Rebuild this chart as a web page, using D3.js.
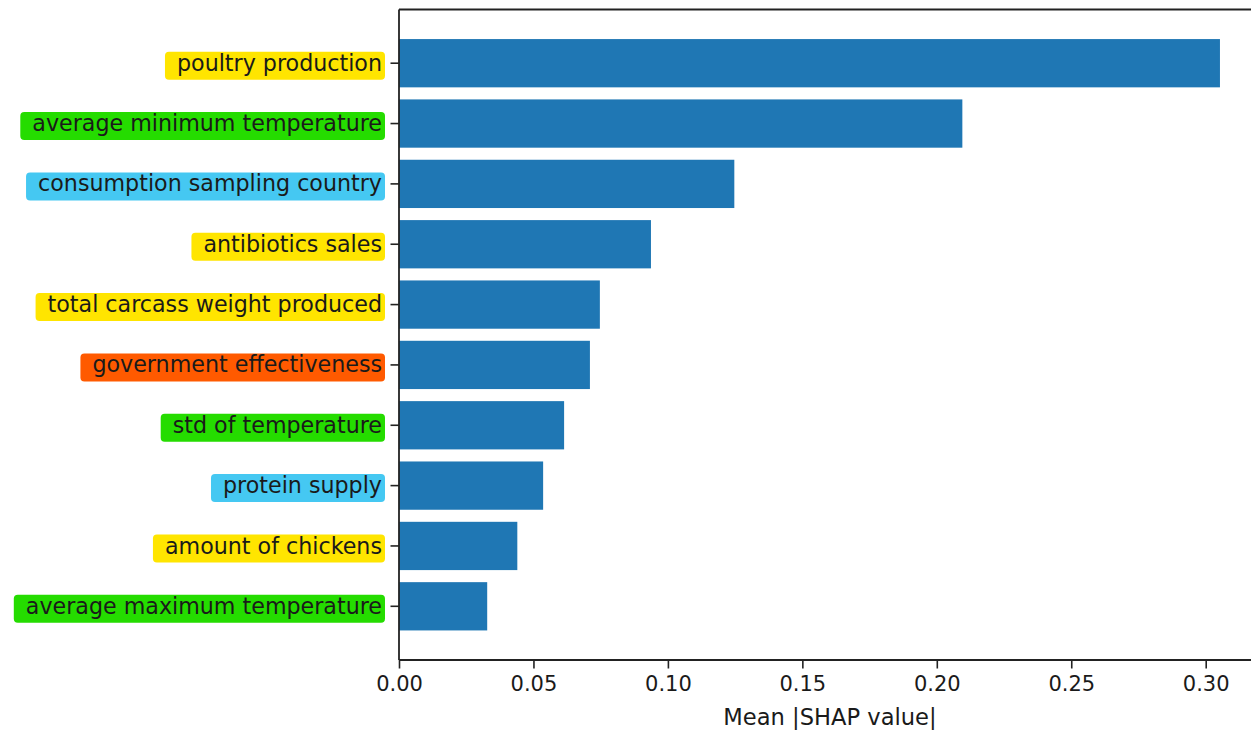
<!DOCTYPE html>
<html>
<head>
<meta charset="utf-8">
<script src="https://cdn.jsdelivr.net/npm/d3@7"></script>
<style>
  html, body { margin: 0; padding: 0; background: #fff; }
  svg { display: block; }
  text { font-family: "DejaVu Sans", sans-serif; fill: #1a1a1a; }
</style>
</head>
<body>
<svg id="chart" width="1251" height="732"></svg>
<script>
// ---- data ----
const features = [
  "poultry production",
  "average minimum temperature",
  "consumption sampling country",
  "antibiotics sales",
  "total carcass weight produced",
  "government effectiveness",
  "std of temperature",
  "protein supply",
  "amount of chickens",
  "average maximum temperature"
];
const meanShap = [0.3053, 0.2095, 0.1247, 0.0937, 0.0747, 0.0710, 0.0614, 0.0536, 0.0440, 0.0328];
const featureGroups = ["production", "climate", "consumption", "production", "production",
                       "governance", "climate", "consumption", "production", "climate"];
const xTicks = [0.00, 0.05, 0.10, 0.15, 0.20, 0.25, 0.30];
const xLabel = "Mean |SHAP value|";

// ---- style ----
const groupColor = {
  production: "#FFE500",
  climate: "#25DC00",
  consumption: "#45C8F2",
  governance: "#FF5A00"
};
const barColor = "#1f77b4";

const svg = d3.select("#chart");
const m = { left: 399, top: 9.5, right: 1261, bottom: 660 };

const x = d3.scaleLinear()
  .domain([0, d3.max(meanShap) * 1.05])
  .range([m.left, m.right]);

const y = d3.scaleBand()
  .domain(features)
  .range([m.top, m.bottom])
  .paddingInner(0.2)
  .paddingOuter(0.49);

const fsY = 22.2, fsX = 21, fsLabel = 22.6;

// highlight marks behind labels (drawn first)
const hl = svg.append("g");

// bars
svg.append("g").selectAll("rect")
  .data(features)
  .join("rect")
  .attr("x", x(0))
  .attr("y", d => y(d))
  .attr("width", (d, i) => x(meanShap[i]) - x(0))
  .attr("height", y.bandwidth())
  .attr("fill", barColor);

// y axis
const yAxis = svg.append("g")
  .attr("transform", `translate(${m.left},0)`)
  .call(d3.axisLeft(y).tickSize(8.5).tickPadding(8.5));
yAxis.select(".domain").remove();
yAxis.selectAll(".tick line").attr("stroke", "#222").attr("stroke-width", 1.6);
yAxis.selectAll(".tick text")
  .attr("font-size", fsY)
  .attr("font-family", "DejaVu Sans")
  .attr("fill", "#1a1a1a")
  .attr("dy", "0.34em");

// highlight rects sized to label text
yAxis.selectAll(".tick text").each(function(d) {
  const i = features.indexOf(d);
  const w = this.getComputedTextLength();
  const right = m.left - 14;
  const left = m.left - 17 - w - 12;
  const cy = y(d) + y.bandwidth() / 2 + 2.5;
  hl.append("rect")
    .attr("x", left)
    .attr("y", cy - 14)
    .attr("width", right - left)
    .attr("height", 28)
    .attr("rx", 4)
    .attr("fill", groupColor[featureGroups[i]]);
});

// x axis
const xAxis = svg.append("g")
  .attr("transform", `translate(0,${m.bottom})`)
  .call(d3.axisBottom(x).tickValues(xTicks).tickFormat(d3.format(".2f")).tickSize(8.5).tickPadding(8).tickSizeOuter(0));
xAxis.select(".domain").remove();
xAxis.selectAll(".tick line").attr("stroke", "#222").attr("stroke-width", 1.6);
xAxis.selectAll(".tick text")
  .attr("font-size", fsX)
  .attr("font-family", "DejaVu Sans")
  .attr("fill", "#1a1a1a");

// frame (spines)
const frame = svg.append("g").attr("stroke", "#222").attr("stroke-width", 1.8).attr("fill", "none");
frame.append("line").attr("x1", m.left).attr("x2", m.left).attr("y1", m.top).attr("y2", m.bottom);
frame.append("line").attr("x1", m.left).attr("x2", m.right).attr("y1", m.bottom).attr("y2", m.bottom);
frame.append("line").attr("x1", m.left).attr("x2", m.right).attr("y1", m.top).attr("y2", m.top);
frame.append("line").attr("x1", m.right).attr("x2", m.right).attr("y1", m.top).attr("y2", m.bottom);

// x label
svg.append("text")
  .attr("x", (m.left + m.right) / 2)
  .attr("y", 725)
  .attr("text-anchor", "middle")
  .attr("font-size", fsLabel)
  .text(xLabel);
</script>
</body>
</html>
